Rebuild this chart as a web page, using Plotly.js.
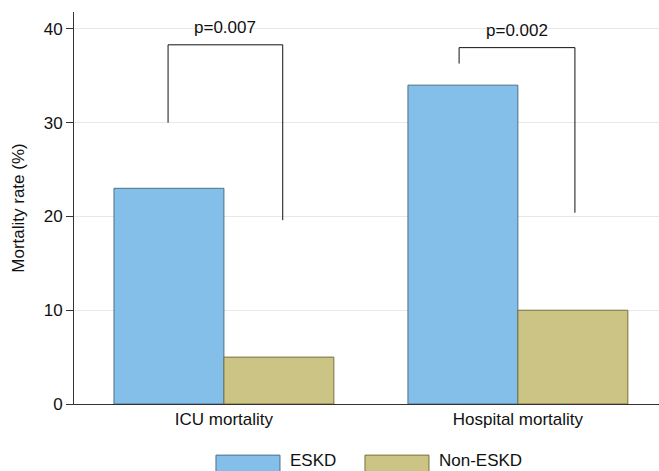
<!DOCTYPE html>
<html>
<head>
<meta charset="utf-8">
<script src="https://cdn.plot.ly/plotly-3.0.1.min.js"></script>
<style>html,body{margin:0;padding:0;background:#fff;}#chart{width:659px;height:471px;}</style>
</head>
<body>
<div id="chart"></div>
<script>
const categories = ["ICU mortality", "Hospital mortality"];
const eskd = [23, 34];
const nonEskd = [5, 10];
const seriesNames = ["ESKD", "Non-ESKD"];
const pLabels = ["p=0.007", "p=0.002"];
// bracket geometry per category
const bracketLeftX = [-0.19, 0.80];
const bracketRightX = [0.20, 1.194];
const bracketLeftBottom = [30, 36.3];
const bracketRightBottom = [19.6, 20.4];
const bracketTop = [38.3, 38.0];

const colors = ["#84BFE9", "#CCC485"];
const borders = ["#4F6E88", "#77713F"];
const FS = 17;

const traces = [
  {type: "bar", x: categories, y: eskd, name: seriesNames[0],
   marker: {color: colors[0], line: {color: borders[0], width: 1}}, showlegend: false, hoverinfo: "none"},
  {type: "bar", x: categories, y: nonEskd, name: seriesNames[1],
   marker: {color: colors[1], line: {color: borders[1], width: 1}}, showlegend: false, hoverinfo: "none"}
];

const shapes = [];
const annotations = [];
for (let i = 0; i < categories.length; i++) {
  shapes.push({type: "path", xref: "x", yref: "y",
    path: `M ${bracketLeftX[i]} ${bracketLeftBottom[i]} L ${bracketLeftX[i]} ${bracketTop[i]} L ${bracketRightX[i]} ${bracketTop[i]} L ${bracketRightX[i]} ${bracketRightBottom[i]}`,
    line: {color: "#111", width: 1}});
  annotations.push({xref: "x", yref: "y", x: (bracketLeftX[i] + bracketRightX[i]) / 2, y: bracketTop[i],
    text: pLabels[i], showarrow: false, yanchor: "bottom", yshift: 6,
    font: {size: FS, color: "#111"}});
}
// custom legend
const legX = [0.2427, 0.4974];
for (let i = 0; i < 2; i++) {
  shapes.push({type: "rect", xref: "paper", yref: "paper",
    x0: legX[i], x1: legX[i] + 0.1094, y0: -0.19, y1: -0.1304,
    fillcolor: colors[i], line: {color: borders[i], width: 1}});
  annotations.push({xref: "paper", yref: "paper", x: legX[i] + 0.124, y: -0.1705,
    text: seriesNames[i], showarrow: false, xanchor: "left", yanchor: "bottom", borderpad: 0,
    font: {size: FS, color: "#111"}});
}

const layout = {
  width: 659, height: 471,
  margin: {l: 74, r: 0, t: 12, b: 67},
  paper_bgcolor: "#fff", plot_bgcolor: "#fff",
  font: {family: "Liberation Sans, Arial, sans-serif", size: FS, color: "#111"},
  barmode: "group", bargap: 0.252, bargroupgap: 0,
  xaxis: {range: [-0.51, 1.48], showline: true, linecolor: "#333", linewidth: 1,
    ticks: "", showgrid: false, zeroline: false, tickfont: {size: FS, color: "#111"}},
  yaxis: {range: [0, 41.8], tickvals: [0, 10, 20, 30, 40], showline: true, linecolor: "#333", linewidth: 1,
    ticks: "outside", ticklen: 7, tickcolor: "#333", showgrid: true, gridcolor: "#E8E8E8", gridwidth: 1,
    zeroline: false, tickfont: {size: FS, color: "#111"},
    title: {text: "Mortality rate (%)", font: {size: FS, color: "#111"}, standoff: 14}},
  shapes: shapes,
  annotations: annotations,
  showlegend: false
};

Plotly.newPlot("chart", traces, layout, {displayModeBar: false, staticPlot: true});
</script>
</body>
</html>
